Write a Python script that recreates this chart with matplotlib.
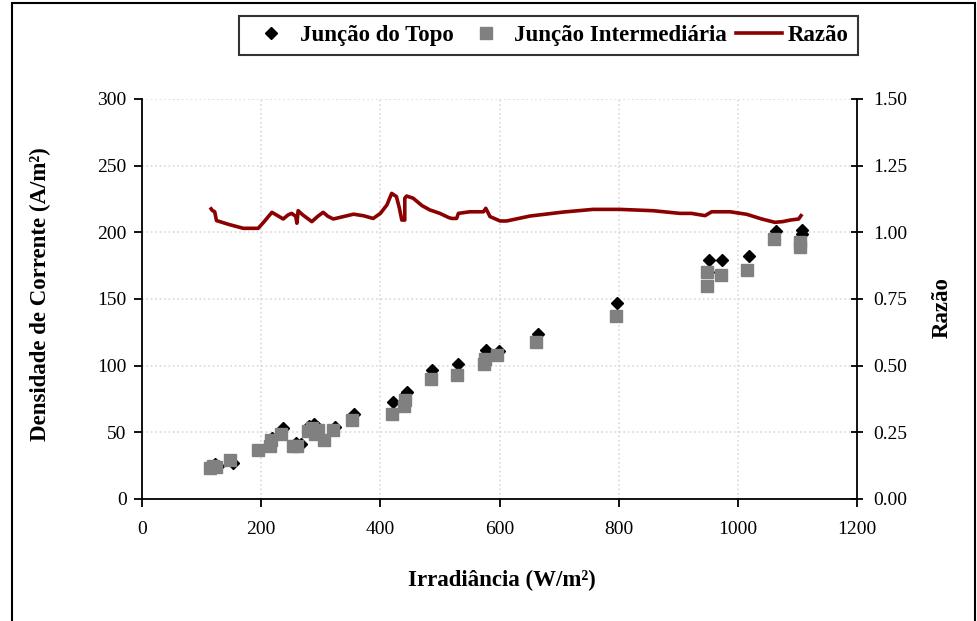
import matplotlib
matplotlib.use("Agg")
import matplotlib.pyplot as plt
from matplotlib.patches import Rectangle
from matplotlib.legend_handler import HandlerLine2D

plt.rcParams['font.family'] = ['Liberation Serif', 'DejaVu Serif']

# dados
topo_x = [115, 122, 128, 152, 196, 216, 219, 237, 258, 266, 280, 288, 294, 304, 324,
          355, 422, 442, 444, 487, 531, 577, 599, 664, 797, 950, 952, 974, 1018, 1064,
          1107, 1107]
topo_y = [25, 26, 25, 27, 37, 42, 46, 53, 42, 41, 55, 56, 54, 45, 54,
          64, 73, 78, 80, 97, 101, 112, 111, 124, 147, 170, 179, 179, 182, 201,
          202, 199]

inter_x = [114, 119, 124, 148, 194, 214, 216, 234, 254, 260, 278, 285, 290, 295, 305,
           321, 352, 419, 440, 442, 485, 528, 574, 575, 596, 661, 795, 949, 949, 971,
           1015, 1061, 1104, 1104]
inter_y = [23, 25, 24, 29, 37, 40, 44, 49, 40, 40, 51, 53, 49, 52, 44,
           52, 59, 64, 70, 74, 90, 93, 101, 105, 108, 118, 137, 160, 170, 168,
           172, 195, 193, 189]

razao_x = [116, 118, 122, 125, 145, 170, 195, 205, 218, 228, 237, 245, 251, 258, 260,
           262, 270, 285, 295, 304, 312, 321, 340, 355, 372, 388, 400, 411, 419, 427,
           432, 436, 441, 441, 444, 455, 470, 483, 500, 515, 520, 528, 531, 550, 573,
           577, 584, 601, 612, 651, 707, 757, 802, 858, 903, 922, 945, 956, 987, 1015,
           1040, 1062, 1075, 1088, 1102, 1106]
razao_y = [1.088, 1.082, 1.077, 1.044, 1.03, 1.015, 1.015, 1.04, 1.075, 1.062, 1.05,
           1.065, 1.071, 1.06, 1.034, 1.081, 1.065, 1.04, 1.06, 1.075, 1.06, 1.05,
           1.06, 1.068, 1.062, 1.052, 1.071, 1.1025, 1.146, 1.134, 1.09, 1.046, 1.046,
           1.128, 1.136, 1.128, 1.10, 1.084, 1.071, 1.055, 1.052, 1.052, 1.071, 1.077,
           1.077, 1.09, 1.059, 1.0425, 1.0425, 1.061, 1.076, 1.086, 1.086, 1.081,
           1.071, 1.071, 1.0625, 1.077, 1.077, 1.0675, 1.05, 1.0375, 1.04, 1.046,
           1.05, 1.0625]

x_ticks = [0, 200, 400, 600, 800, 1000, 1200]
y_ticks = [0, 50, 100, 150, 200, 250, 300]
y2_ticks = [0.0, 0.25, 0.5, 0.75, 1.0, 1.25, 1.5]


class MarcadorDeslocado(HandlerLine2D):
    # coloca o marcador mais perto do texto, como no Excel
    def __init__(self, frac, **kw):
        super().__init__(**kw)
        self.frac = frac

    def get_xdata(self, legend, xdescent, ydescent, width, height, fontsize):
        xd, xm = super().get_xdata(legend, xdescent, ydescent, width, height, fontsize)
        return xd, [self.frac * width - xdescent]


fig = plt.figure(figsize=(9.78, 6.21), dpi=100)
ax = fig.add_axes([0.1452, 0.1965, 0.7311, 0.6441])

p1, = ax.plot(topo_x, topo_y, linestyle='none', marker='D', ms=6.2,
              color='black', label='Junção do Topo')
p2, = ax.plot(inter_x, inter_y, linestyle='none', marker='s', ms=8,
              color='#808080', label='Junção Intermediária')

ax.set_xlim(0, 1200)
ax.set_ylim(0, 300)
ax.set_xticks(x_ticks)
ax.set_yticks(y_ticks)
ax.grid(True, color='#d9d9d9', linestyle=':', linewidth=1.2)
ax.set_axisbelow(True)
ax.spines['top'].set_visible(False)
ax.spines['right'].set_visible(False)
for s in ['left', 'bottom']:
    ax.spines[s].set_linewidth(1.3)
ax.tick_params(direction='out', length=6, width=1.3, labelsize=14)
ax.tick_params(axis='x', pad=10)
ax.tick_params(axis='y', pad=5)

ax.set_xlabel('Irradiância (W/m²)', fontsize=16.5, fontweight='bold')
ax.set_ylabel('Densidade de Corrente (A/m²)', fontsize=16.5, fontweight='bold')
ax.xaxis.set_label_coords(0.5035, -0.1775)
ax.yaxis.set_label_coords(-0.127, 0.5125)

ax2 = ax.twinx()
p3, = ax2.plot(razao_x, razao_y, color='#8B0000', linewidth=2.6, label='Razão')
ax2.set_ylim(0, 1.5)
ax2.set_yticks(y2_ticks)
ax2.set_yticklabels([f'{v:.2f}' for v in y2_ticks])
ax2.spines['top'].set_visible(False)
ax2.spines['left'].set_visible(False)
ax2.spines['bottom'].set_visible(False)
ax2.spines['right'].set_linewidth(1.3)
ax2.tick_params(direction='inout', length=8, width=1.3, labelsize=14, pad=8)
ax2.set_ylabel('Razão', fontsize=16.5, fontweight='bold')
ax2.yaxis.set_label_coords(1.104, 0.4775)

leg = fig.legend(handles=[p1, p2, p3], loc='upper right',
                 bbox_to_anchor=(858 / 978, 1 - 16 / 621), ncol=3,
                 prop={'weight': 'bold', 'size': 16.5}, frameon=True,
                 fancybox=False, edgecolor='black', handlelength=2.0,
                 columnspacing=0.4, handletextpad=0.25, borderpad=0.4,
                 borderaxespad=0,
                 handler_map={p1: MarcadorDeslocado(0.54),
                              p2: MarcadorDeslocado(0.76)})
leg.get_frame().set_linewidth(1.5)

# moldura externa
fig.patches.append(Rectangle((12 / 978, -0.01), 963 / 978, 1.01 - 3 / 621,
                             transform=fig.transFigure, fill=False,
                             edgecolor='black', linewidth=1.5))

fig.savefig('out.png', dpi=100)
